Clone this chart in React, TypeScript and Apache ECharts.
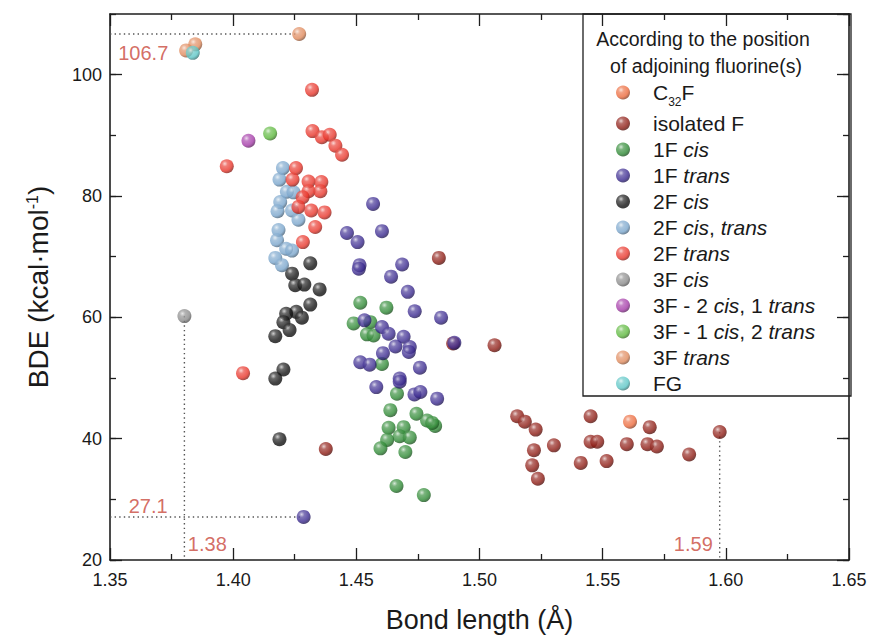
import React, { useEffect, useRef } from "react";
import * as echarts from "echarts";

const seriesNames = [
  "C32F",
  "isolated F",
  "1F cis",
  "1F trans",
  "2F cis",
  "2F cis, trans",
  "2F trans",
  "3F cis",
  "3F - 2 cis, 1 trans",
  "3F - 1 cis, 2 trans",
  "3F trans",
  "FG",
];

const c32f = [[1.5611, 42.8]];
const isolatedF = [
  [1.4376, 38.3], [1.4835, 69.8], [1.4893, 55.7], [1.5061, 55.4], [1.5153, 43.7],
  [1.5184, 42.8], [1.5228, 41.5], [1.5221, 38.1], [1.5214, 35.6], [1.5237, 33.4],
  [1.5302, 38.9], [1.5451, 43.7], [1.5451, 39.5], [1.5478, 39.5], [1.5411, 36.0],
  [1.5516, 36.3], [1.5598, 39.1], [1.5691, 41.9], [1.5682, 39.1], [1.572, 38.7],
  [1.5851, 37.4], [1.5975, 41.1],
];
const oneFcis = [
  [1.4516, 62.4], [1.4622, 61.6], [1.4489, 59.0], [1.4557, 59.2], [1.4543, 57.2],
  [1.457, 57.0], [1.4604, 52.3], [1.4665, 47.4], [1.4638, 44.7], [1.4744, 44.1],
  [1.4787, 43.0], [1.482, 42.1], [1.4631, 41.8], [1.4692, 41.9], [1.4676, 40.4],
  [1.4717, 40.2], [1.4625, 39.8], [1.4598, 38.4], [1.4699, 37.8], [1.4663, 32.2],
  [1.4774, 30.7], [1.4808, 42.6],
];
const oneFtrans = [
  [1.4568, 78.7], [1.4462, 73.9], [1.4505, 72.4], [1.4604, 74.2], [1.4513, 68.6],
  [1.451, 68.0], [1.4686, 68.7], [1.4641, 66.7], [1.4709, 64.2], [1.4737, 61.0],
  [1.4844, 59.95], [1.4533, 59.5], [1.4604, 58.4], [1.4631, 57.3], [1.4692, 56.8],
  [1.4659, 55.2], [1.4717, 55.1], [1.4713, 54.3], [1.4608, 54.1], [1.4516, 52.6],
  [1.4554, 52.2], [1.4758, 51.7], [1.4898, 55.8], [1.4676, 49.9], [1.4581, 48.5],
  [1.4676, 49.4], [1.4736, 47.3], [1.476, 47.7], [1.4828, 46.6], [1.4286, 27.1],
];
const twoFcis = [
  [1.4313, 68.9], [1.4239, 67.2], [1.4252, 65.3], [1.4289, 65.4], [1.4351, 64.6],
  [1.4313, 62.1], [1.4256, 60.9], [1.4215, 60.6], [1.4279, 59.95], [1.4204, 59.2],
  [1.4229, 57.9], [1.4171, 56.9], [1.4204, 51.4], [1.4171, 49.9], [1.4188, 39.9],
];
const twoFcisTrans = [
  [1.4202, 84.6], [1.4188, 82.7], [1.4218, 80.7], [1.4245, 80.6], [1.4191, 79.0],
  [1.418, 77.5], [1.4239, 77.6], [1.4265, 76.1], [1.4184, 74.4], [1.4178, 72.7],
  [1.4215, 71.3], [1.4239, 71.0], [1.4171, 69.8], [1.4198, 68.6],
];
const twoFtrans = [
  [1.3974, 84.9], [1.4255, 84.6], [1.4241, 82.7], [1.4306, 82.4], [1.4358, 82.3],
  [1.4306, 80.8], [1.4354, 80.8], [1.4282, 79.8], [1.4265, 78.2], [1.4317, 77.6],
  [1.4371, 77.3], [1.4333, 74.9], [1.4283, 72.4], [1.404, 50.8], [1.432, 97.5],
  [1.4322, 90.7], [1.436, 89.7], [1.4392, 90.1], [1.4415, 88.3], [1.4442, 86.8],
];
const threeFcis = [[1.3802, 60.2]];
const threeF2cis1trans = [[1.4062, 89.1]];
const threeF1cis2trans = [[1.415, 90.3]];
const threeFtrans = [[1.4268, 106.7], [1.3846, 105.0], [1.3809, 104.0]];
const fg = [[1.3836, 103.6]];

const seriesData = [
  c32f, isolatedF, oneFcis, oneFtrans, twoFcis, twoFcisTrans, twoFtrans,
  threeFcis, threeF2cis1trans, threeF1cis2trans, threeFtrans, fg,
];

const seriesColors = [
  "#ec6a3c", "#8e1c14", "#2f8a35", "#3b2a90", "#141414", "#79a5cc", "#e8352a",
  "#8a8a8a", "#a43aa8", "#5cb83c", "#e08a5c", "#5cc6c6",
];

const legendRich: Record<string, string> = {
  "C32F": "{n|C}{sub|32}{n|F}",
  "isolated F": "{n|isolated F}",
  "1F cis": "{n|1F }{i|cis}",
  "1F trans": "{n|1F }{i|trans}",
  "2F cis": "{n|2F }{i|cis}",
  "2F cis, trans": "{n|2F }{i|cis}{n|, }{i|trans}",
  "2F trans": "{n|2F }{i|trans}",
  "3F cis": "{n|3F }{i|cis}",
  "3F - 2 cis, 1 trans": "{n|3F - 2 }{i|cis}{n|, 1 }{i|trans}",
  "3F - 1 cis, 2 trans": "{n|3F - 1 }{i|cis}{n|, 2 }{i|trans}",
  "3F trans": "{n|3F }{i|trans}",
  "FG": "{n|FG}",
};

const guideLines = [
  [[1.35, 106.7], [1.4262, 106.7]],
  [[1.3802, 60.2], [1.3802, 20]],
  [[1.35, 27.1], [1.4282, 27.1]],
  [[1.5975, 41.1], [1.5975, 20]],
];
const annotations = [
  [1.3635, 103.5, "106.7"],
  [1.3655, 28.9, "27.1"],
  [1.3895, 22.6, "1.38"],
  [1.5868, 22.6, "1.59"],
];

const xTicks = { min: 1.35, max: 1.65, interval: 0.05 };
const yTicks = { min: 20, max: 110, interval: 20, minor: 10 };

const FONT = "'Liberation Sans', Arial, sans-serif";
const AX = "#1e1e1e";

function hexToRgb(h: string) {
  const n = parseInt(h.slice(1), 16);
  return [(n >> 16) & 255, (n >> 8) & 255, n & 255];
}
function mix(h: string, t: number[], a: number) {
  const c = hexToRgb(h);
  const r = c.map((v, i) => Math.round(v + (t[i] - v) * a));
  return `rgb(${r[0]},${r[1]},${r[2]})`;
}
function sphere(h: string) {
  return new echarts.graphic.RadialGradient(0.36, 0.32, 0.72, [
    { offset: 0, color: mix(h, [255, 255, 255], 0.75) },
    { offset: 0.28, color: mix(h, [255, 255, 255], 0.2) },
    { offset: 0.7, color: h },
    { offset: 1, color: mix(h, [0, 0, 0], 0.45) },
  ]);
}

export default function App() {
  const ref = useRef<HTMLDivElement>(null);
  useEffect(() => {
    if (!ref.current) return;
    const chart = echarts.init(ref.current, undefined, { renderer: "svg" });
    const grid = { left: 110, right: 27, top: 14, bottom: 80 };
    const tickStyle = { color: AX, width: 1.3 };
    const axisLine = { show: true, lineStyle: { color: AX, width: 1.6 } };

    const pointSeries = seriesNames.map((name, i) => ({
      name,
      type: "scatter",
      data: seriesData[i],
      symbol: "circle",
      symbolSize: 14,
      z: 3,
      itemStyle: { color: sphere(seriesColors[i]) },
      emphasis: { disabled: true },
    }));

    const lineSeries = guideLines.map((d) => ({
      type: "line",
      data: d,
      showSymbol: false,
      symbol: "none",
      silent: true,
      z: 1,
      lineStyle: { color: "#555", width: 1.4, type: [1.4, 3.2] },
    }));

    const option: any = {
      animation: false,
      backgroundColor: "#ffffff",
      textStyle: { fontFamily: FONT },
      grid,
      xAxis: [
        {
          type: "value",
          position: "bottom",
          min: xTicks.min,
          max: xTicks.max,
          interval: xTicks.interval,
          axisLine,
          axisTick: { show: true, inside: true, length: 12, lineStyle: tickStyle },
          minorTick: { show: true, splitNumber: 2, length: 6, lineStyle: tickStyle },
          splitLine: { show: false },
          axisLabel: {
            color: "#1a1a1a",
            fontSize: 18,
            margin: 11,
            fontFamily: FONT,
            formatter: (v: number) => v.toFixed(2),
          },
          name: "Bond length (Å)",
          nameLocation: "middle",
          nameGap: 46,
          nameTextStyle: { fontSize: 27, color: "#1a1a1a", fontFamily: FONT },
        },
        {
          type: "value",
          position: "top",
          min: xTicks.min,
          max: xTicks.max,
          interval: xTicks.interval,
          axisLine,
          axisTick: { show: true, inside: true, length: 12, lineStyle: tickStyle },
          minorTick: { show: true, splitNumber: 2, length: 6, lineStyle: tickStyle },
          splitLine: { show: false },
          axisLabel: { show: false },
        },
      ],
      yAxis: [
        {
          type: "value",
          position: "left",
          min: yTicks.min,
          max: yTicks.max,
          interval: yTicks.interval,
          axisLine,
          axisTick: { show: true, inside: true, length: 12, lineStyle: tickStyle },
          splitLine: { show: false },
          axisLabel: {
            color: "#1a1a1a",
            fontSize: 18,
            margin: 8,
            fontFamily: FONT,
            showMaxLabel: false,
          },
          name: "{a|BDE (kcal·mol}{sup|-1}{a|)}",
          nameLocation: "middle",
          nameRotate: 90,
          nameGap: 57,
          nameTextStyle: {
            fontFamily: FONT,
            rich: {
              a: { fontSize: 28, color: "#1a1a1a", fontFamily: FONT },
              sup: { fontSize: 16, color: "#1a1a1a", fontFamily: FONT, padding: [0, 0, 13, 0] },
            },
          },
        },
        {
          type: "value",
          position: "left",
          min: yTicks.min,
          max: yTicks.max,
          interval: yTicks.minor,
          axisLine: { show: false },
          axisTick: { show: true, inside: true, length: 6, lineStyle: tickStyle },
          splitLine: { show: false },
          axisLabel: { show: false },
        },
        {
          type: "value",
          position: "right",
          min: yTicks.min,
          max: yTicks.max,
          interval: yTicks.interval,
          axisLine,
          axisTick: { show: true, inside: true, length: 12, lineStyle: tickStyle },
          splitLine: { show: false },
          axisLabel: { show: false },
        },
        {
          type: "value",
          position: "right",
          min: yTicks.min,
          max: yTicks.max,
          interval: yTicks.minor,
          axisLine: { show: false },
          axisTick: { show: true, inside: true, length: 6, lineStyle: tickStyle },
          splitLine: { show: false },
          axisLabel: { show: false },
        },
      ],
      legend: {
        data: seriesNames,
        orient: "vertical",
        left: 611,
        top: 77,
        itemWidth: 50,
        itemHeight: 14,
        itemGap: 5,
        icon: "circle",
        selectedMode: false,
        formatter: (name: string) => legendRich[name] || name,
        textStyle: {
          fontFamily: FONT,
          rich: {
            n: { fontSize: 21, color: "#1a1a1a", fontFamily: FONT },
            i: { fontSize: 21, color: "#1a1a1a", fontStyle: "italic", fontFamily: FONT },
            sub: { fontSize: 12, color: "#1a1a1a", fontFamily: FONT, padding: [19, 0, 0, 0] },
          },
        },
      },
      graphic: [
        {
          type: "rect",
          shape: { x: 583, y: 14, width: 268, height: 382 },
          style: { fill: "#ffffff", stroke: AX, lineWidth: 1.3 },
          z: 0,
          silent: true,
        },
        {
          type: "text",
          x: 703,
          y: 39,
          style: {
            text: "According to the position",
            fontSize: 19.5,
            fontFamily: FONT,
            fill: "#1a1a1a",
            align: "center",
            verticalAlign: "middle",
          },
          z: 5,
        },
        {
          type: "text",
          x: 706,
          y: 66,
          style: {
            text: "of adjoining fluorine(s)",
            fontSize: 19.5,
            fontFamily: FONT,
            fill: "#1a1a1a",
            align: "center",
            verticalAlign: "middle",
          },
          z: 5,
        },
      ],
      series: [
        ...lineSeries,
        ...pointSeries,
        {
          type: "scatter",
          data: annotations,
          symbolSize: 1,
          silent: true,
          z: 4,
          itemStyle: { color: "rgba(0,0,0,0)" },
          label: {
            show: true,
            position: "inside",
            formatter: (p: any) => p.data[2],
            color: "#c9483c",
            fontSize: 20,
            fontFamily: FONT,
          },
        },
      ],
    };
    chart.setOption(option);
    return () => chart.dispose();
  }, []);
  return (
    <div
      ref={ref}
      style={{ position: "absolute", left: 0, top: 0, width: 876, height: 640 }}
    />
  );
}
